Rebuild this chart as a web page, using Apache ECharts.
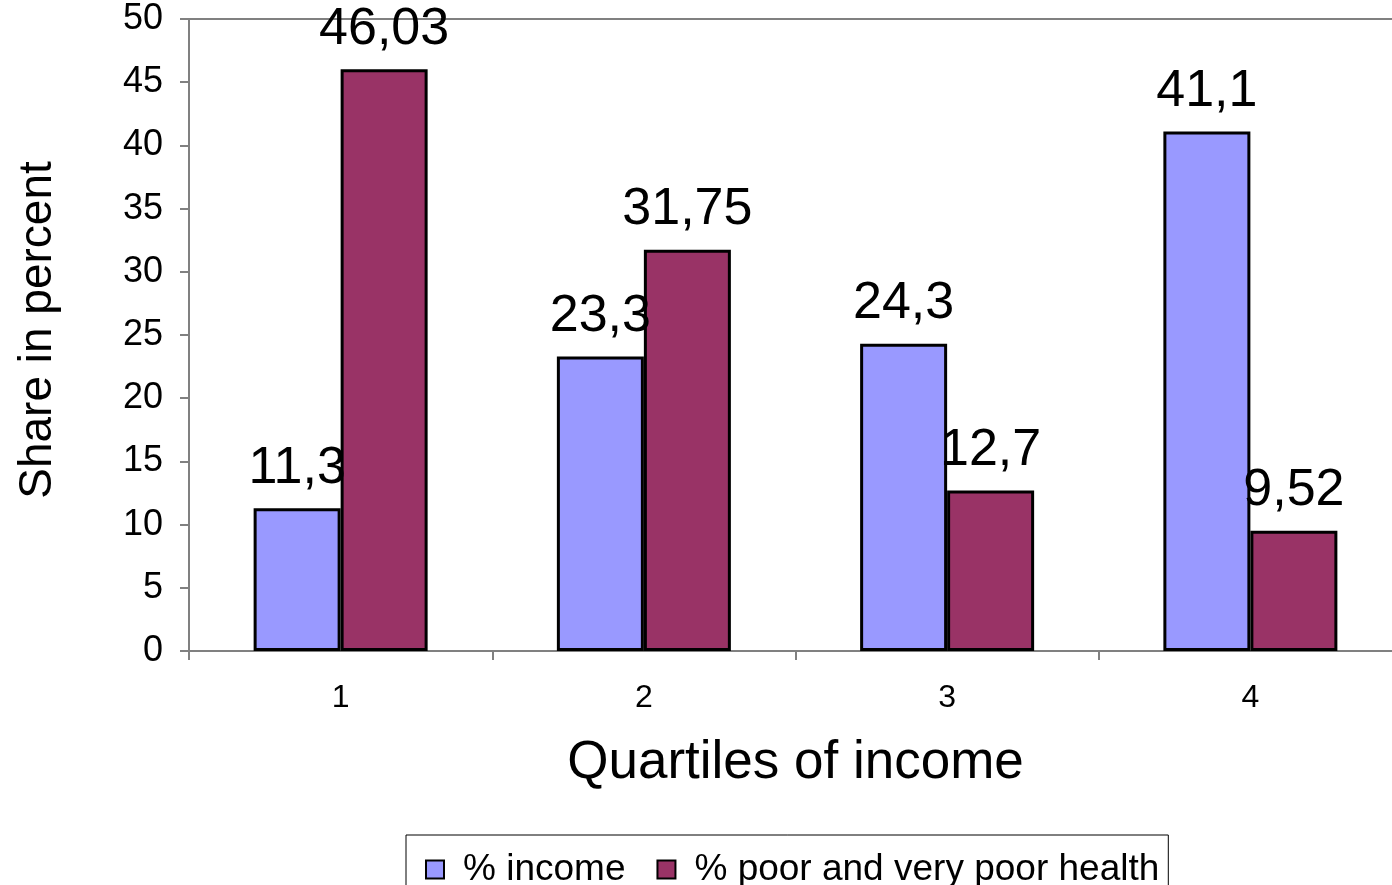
<!DOCTYPE html>
<html>
<head>
<meta charset="utf-8">
<script src="https://cdn.jsdelivr.net/npm/echarts@6/dist/echarts.min.js"></script>
<style>
html,body{margin:0;padding:0;background:#fff;}
#chart{width:1392px;height:885px;}
</style>
</head>
<body>
<div id="chart"></div>
<script>
const categories = ['1', '2', '3', '4'];
const incomeShare = [11.3, 23.3, 24.3, 41.1];
const poorHealthShare = [46.03, 31.75, 12.7, 9.52];
const seriesNames = ['% income', '% poor and very poor health'];
const yTicks = {min: 0, max: 50, interval: 5};

const FONT = '"Liberation Sans", Arial, sans-serif';
const chart = echarts.init(document.getElementById('chart'));
const fmt = p => String(p.value).replace('.', ',');
const labelCfg = {
  show: true, position: 'top', distance: 14, formatter: fmt,
  color: '#000', fontSize: 52, fontFamily: FONT
};
chart.setOption({
  animation: false,
  backgroundColor: '#fff',
  grid: {left: 189, top: 19, width: 1213, height: 632, containLabel: false, outerBoundsMode: 'none',
         show: true, borderColor: '#808080', borderWidth: 2, backgroundColor: 'transparent'},
  legend: {
    data: seriesNames,
    left: 406, top: 835,
    padding: [16, 9, 16, 19],
    itemWidth: 18, itemHeight: 18, itemGap: 31,
    icon: 'rect',
    itemStyle: {borderColor: '#000', borderWidth: 2},
    borderColor: '#000', borderWidth: 1,
    textStyle: {fontSize: 37, fontFamily: FONT, color: '#000', padding: [0, 0, 0, 14]}
  },
  xAxis: {
    type: 'category', data: categories,
    name: 'Quartiles of income', nameLocation: 'middle', nameGap: 86,
    nameTextStyle: {fontSize: 53, fontFamily: FONT, color: '#000'},
    axisLine: {lineStyle: {color: '#808080', width: 2}},
    axisTick: {show: true, length: 9, lineStyle: {color: '#808080', width: 2}},
    axisLabel: {fontSize: 32, fontFamily: FONT, color: '#000', margin: 31}
  },
  yAxis: {
    type: 'value', min: yTicks.min, max: yTicks.max, interval: yTicks.interval,
    name: 'Share in percent', nameLocation: 'middle', nameGap: 128, nameRotate: 90,
    nameTextStyle: {fontSize: 46, fontFamily: FONT, color: '#000', padding: [0, 0, 0, 10]},
    axisLine: {show: true, lineStyle: {color: '#808080', width: 2}},
    axisTick: {show: true, length: 9, lineStyle: {color: '#808080', width: 2}},
    splitLine: {show: false},
    axisLabel: {fontSize: 36, fontFamily: FONT, color: '#000', margin: 26}
  },
  series: [
    {name: seriesNames[0], type: 'bar', data: incomeShare, barWidth: 87, barGap: '0%',
     itemStyle: {color: '#9999FF', borderColor: '#000', borderWidth: 3}, label: labelCfg},
    {name: seriesNames[1], type: 'bar', data: poorHealthShare, barWidth: 87, barGap: '0%',
     itemStyle: {color: '#993366', borderColor: '#000', borderWidth: 3}, label: labelCfg}
  ]
});
</script>
</body>
</html>
